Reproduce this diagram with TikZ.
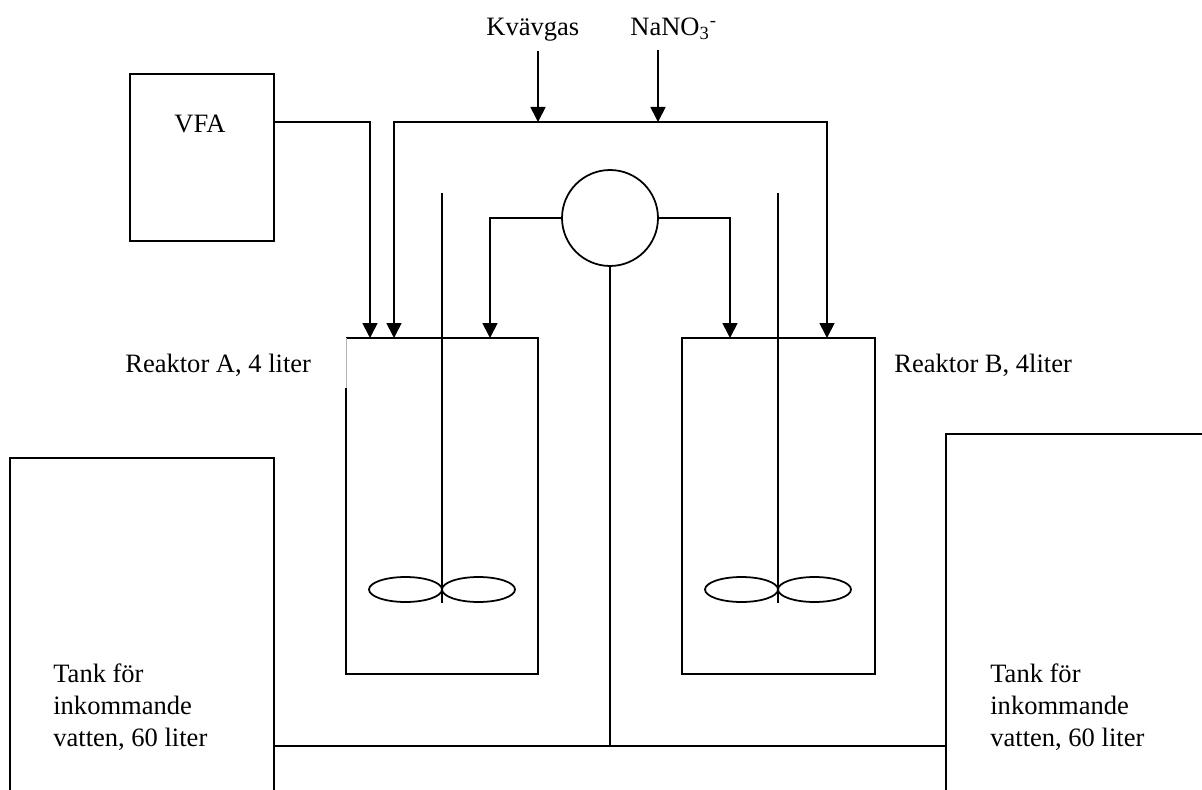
\documentclass[tikz,border=0pt]{standalone}
\usepackage{fontspec}
\setmainfont{Liberation Serif}
\usetikzlibrary{arrows.meta}
\usetikzlibrary{calc}
\tikzset{
	pipe/.style={line width=1pt},
	edge/.style={pipe, -{Triangle[length=0.3cm, width=0.3cm]}},
	box/.style={draw, line width=1pt, rectangle, inner sep=0pt},
	vessel/.style={rectangle, inner sep=0pt, minimum width=3.86cm, minimum height=6.72cm},
	label/.style={font=\fontsize{15.1}{18.1}\selectfont, inner sep=0pt, anchor=base west, align=left}
}

\begin{document}
\begin{tikzpicture}[x=0.02cm, y=-0.02cm]
\useasboundingbox (0, 0) rectangle (1202, 790);

\node[box, minimum width=2.88cm, minimum height=3.34cm] (VFA) at (202, 157.5) {};
\node[label] (VFAtext) at (174, 133) {VFA};
\node[box, circle, minimum size=1.92cm] (pump) at (610, 218) {};
\node[vessel, minimum width=3.84cm] (reaktorA) at (442, 506) {};
\node[vessel] (reaktorB) at (778.5, 506) {};

\node[label] (kvavgas) at (486, 36) {Kvävgas};
\node[label] (nano) at (630, 36) {NaNO\textsubscript{3}\textsuperscript{-}};
\node[label] (reaktorAtext) at (125, 372) {Reaktor A, 4 liter};
\node[label] (reaktorBtext) at (894, 372) {Reaktor B, 4liter};
\node[label] (tankAtext) at (53, 746) {Tank för\\inkommande\\vatten, 60 liter};
\node[label] (tankBtext) at (990, 746) {Tank för\\inkommande\\vatten, 60 liter};

\coordinate (kvavgasstart) at (538, 51);
\coordinate (kvavgasend) at (538, 122);
\coordinate (nanostart) at (658, 50);
\coordinate (nanoend) at (658, 122);
\coordinate (inVFA) at (370, 338);
\coordinate (inGasA) at (394, 338);
\coordinate (inPumpA) at (490, 338);
\coordinate (inPumpB) at (730, 338);
\coordinate (inGasB) at (827, 338);
\coordinate (tankAout) at (274, 746);
\coordinate (tankBout) at (946, 746);
\coordinate (junction) at (610, 746);

% tanks run off the page
\draw[pipe] (10, 790) -- (10, 458) -- (274, 458) -- (274, 790);
\draw[pipe] (946, 790) -- (946, 434) -- (1202, 434);

% reactors
\draw[pipe] ($(reaktorA.north west)+(0, 50)$) -- (reaktorA.south west) -- (reaktorA.south east) -- (reaktorA.north east) -- (reaktorA.north west);
\draw[line width=0.3pt, black!30] ($(reaktorA.north west)+(1, 0)$) -- ($(reaktorA.north west)+(1, 50)$);
\draw[pipe] (reaktorB.north west) rectangle (reaktorB.south east);

% stirrers
\foreach \reaktor/\xpos in {A/442, B/778} {
	\draw[line width=0.8pt] (\xpos, 193) -- (\xpos, 603);
	\draw[pipe] (\xpos-36.5, 589.5) ellipse [x radius=36.5, y radius=12.5];
	\draw[pipe] (\xpos+36.5, 589.5) ellipse [x radius=36.5, y radius=12.5];
}

\draw[edge] (kvavgasstart) to (kvavgasend);
\draw[edge] (nanostart) to (nanoend);
\draw[edge] (VFA.east |- 0, 122) -| (inVFA);
\draw[edge] (kvavgasend) -| (inGasA);
\draw[edge] (nanoend) -| (inGasB);
\draw[pipe] (kvavgasend) -- (nanoend);
\draw[edge] (pump.west) -| (inPumpA);
\draw[edge] (pump.east) -| (inPumpB);
\draw[pipe] (pump.south) -- (junction);
\draw[pipe] (tankAout) -- (tankBout);
\end{tikzpicture}
\end{document}
